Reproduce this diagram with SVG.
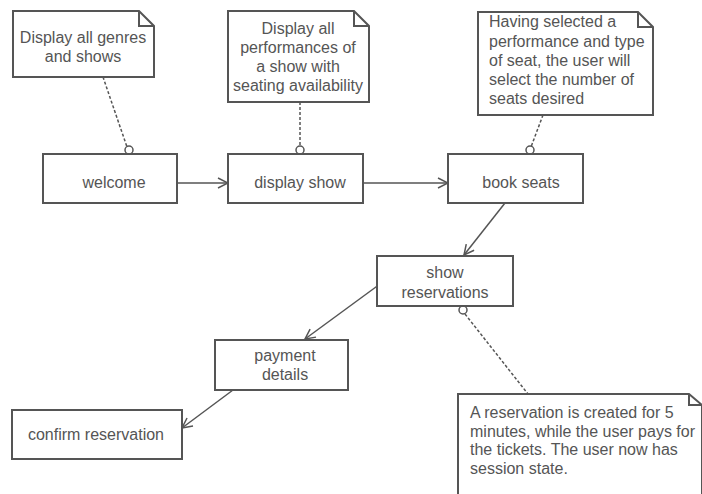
<svg xmlns="http://www.w3.org/2000/svg" width="702" height="494" viewBox="0 0 702 494">
<style>
.box{fill:#fff;stroke:#555;stroke-width:2}
.note{fill:#fff;stroke:#555;stroke-width:2}
.t{font-family:"Liberation Sans",Arial,sans-serif;font-size:16px;fill:#555}
.c{text-anchor:middle}
.link{stroke:#555;stroke-width:1.5;fill:none}
.dash{stroke:#555;stroke-width:1.5;stroke-dasharray:3,2;fill:none}
.knob{fill:#fff;stroke:#555;stroke-width:1.5}
</style>
<defs>
<marker id="arr" markerWidth="12" markerHeight="12" refX="11" refY="6" orient="auto" markerUnits="userSpaceOnUse">
<path d="M1,1 L11,6 L1,11" fill="none" stroke="#555" stroke-width="1.5"/>
</marker>
</defs>
<rect width="702" height="494" fill="#fff"/>
<g id="connectors">
<line class="link" x1="177" y1="183" x2="228" y2="183" marker-end="url(#arr)"/>
<line class="link" x1="363" y1="183" x2="448" y2="183" marker-end="url(#arr)"/>
<line class="link" x1="505" y1="203" x2="464" y2="255" marker-end="url(#arr)"/>
<line class="link" x1="380" y1="284" x2="305" y2="339" marker-end="url(#arr)"/>
<line class="link" x1="233" y1="390" x2="182" y2="428" marker-end="url(#arr)"/>
<line class="dash" x1="103" y1="77" x2="127" y2="147"/>
<line class="dash" x1="300" y1="102" x2="300" y2="147"/>
<line class="dash" x1="543" y1="115" x2="531" y2="147"/>
<line class="dash" x1="465" y1="314" x2="528" y2="394"/>
<circle class="knob" cx="129" cy="150" r="4"/>
<circle class="knob" cx="300" cy="150" r="4"/>
<circle class="knob" cx="530" cy="150" r="4"/>
<circle class="knob" cx="463" cy="310" r="4"/>
</g>
<g id="note1">
<path class="note" d="M13,11 H139 L154,26 V77 H13 Z M139,11 V26 H154"/>
<text class="t c" x="83" y="43">Display all genres</text>
<text class="t c" x="83" y="62">and shows</text>
</g>
<g id="note2">
<path class="note" d="M228,11 H354 L369,26 V102 H228 Z M354,11 V26 H369"/>
<text class="t c" x="298" y="34">Display all</text>
<text class="t c" x="298" y="53">performances of</text>
<text class="t c" x="298" y="72">a show with</text>
<text class="t c" x="298" y="91">seating availability</text>
</g>
<g id="note3">
<path class="note" d="M478,12 H638 L653,27 V115 H478 Z M638,12 V27 H653"/>
<text class="t" x="489" y="27">Having selected a</text>
<text class="t" x="489" y="47">performance and type</text>
<text class="t" x="489" y="66">of seat, the user will</text>
<text class="t" x="489" y="85">select the number of</text>
<text class="t" x="489" y="104">seats desired</text>
</g>
<g id="note4">
<path class="note" d="M458,394 H689 L702,405 V500 H458 Z M689,394 V405 H702"/>
<text class="t" x="470" y="418">A reservation is created for 5</text>
<text class="t" x="470" y="436.5">minutes, while the user pays for</text>
<text class="t" x="470" y="455">the tickets. The user now has</text>
<text class="t" x="470" y="473.5">session state.</text>
</g>
<g id="welcome">
<rect class="box" x="43" y="154" width="134" height="49"/>
<text class="t c" x="114" y="188">welcome</text>
</g>
<g id="display-show">
<rect class="box" x="228" y="154" width="135" height="49"/>
<text class="t c" x="300" y="188">display show</text>
</g>
<g id="book-seats">
<rect class="box" x="448" y="154" width="135" height="49"/>
<text class="t c" x="521" y="188">book seats</text>
</g>
<g id="show-reservations">
<rect class="box" x="377" y="256" width="136" height="50"/>
<text class="t c" x="445" y="278">show</text>
<text class="t c" x="445" y="298">reservations</text>
</g>
<g id="payment-details">
<rect class="box" x="215" y="340" width="133" height="50"/>
<text class="t c" x="285" y="361">payment</text>
<text class="t c" x="285" y="380">details</text>
</g>
<g id="confirm-reservation">
<rect class="box" x="12" y="410" width="170" height="49"/>
<text class="t c" x="96" y="440">confirm reservation</text>
</g>
</svg>
